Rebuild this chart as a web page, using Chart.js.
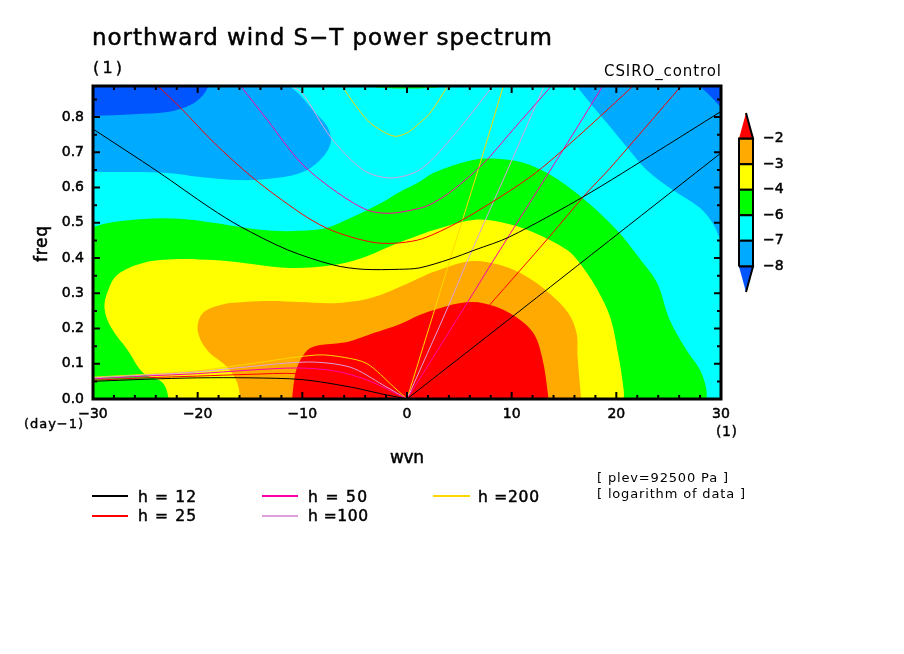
<!DOCTYPE html>
<html>
<head>
<meta charset="utf-8">
<title>northward wind S-T power spectrum</title>
<script src="https://cdn.jsdelivr.net/npm/chart.js@4"></script>
<style>
  body { margin: 0; background: #fff; }
  #plot { position: absolute; left: 0; top: 0; }
  #cbar { position: absolute; left: 730px; top: 103px; }
</style>
</head>
<body>
<canvas id="plot" width="904" height="654"></canvas>
<canvas id="cbar" width="70" height="200"></canvas>
<script>
// axis ticks
const xTicks = [-30, -20, -10, 0, 10, 20, 30];
const xMinor = [-28, -26, -24, -22, -18, -16, -14, -12, -8, -6, -4, -2, 2, 4, 6, 8, 12, 14, 16, 18, 22, 24, 26, 28];
const yTicks = [0, 0.1, 0.2, 0.3, 0.4, 0.5, 0.6, 0.7, 0.8];
const yMinor = [0.05, 0.15, 0.25, 0.35, 0.45, 0.55, 0.65, 0.75, 0.85];
const yTop = 0.888;

// contour regions, [wvn, freq], ends run past the frame and get clipped
const redRegion = [[-11,-.02],[-10.9,.025],[-10.5,.09],[-9.5,.139],[-8.3,.153],[-5.7,.162],[-3.2,.187],[-.7,.212],[1.2,.238],[2.5,.252],[5,.272],[7.3,.272],[9.8,.244],[12,.19],[12.9,.119],[13.5,.006],[13.5,-.02]];
const orangeRegion = [[-15.9,-.02],[-16.2,.045],[-17.2,.091],[-19.1,.139],[-20,.196],[-19.5,.244],[-17.8,.267],[-15.6,.275],[-13,.278],[-10.2,.275],[-7,.272],[-3.8,.284],[-1.3,.31],[1.2,.343],[2.5,.36],[6,.391],[8.9,.38],[11.5,.346],[13.6,.3],[15.4,.244],[16.2,.187],[16.3,.119],[16.7,-.02]];
const yellowRegion = [[-22.6,-.02],[-23.3,.045],[-25.2,.074],[-26.7,.139],[-28.3,.204],[-28.9,.258],[-28.6,.304],[-27.7,.352],[-25.2,.386],[-21.9,.397],[-18.5,.394],[-15.6,.386],[-11.2,.372],[-7,.38],[-4.3,.4],[-1.3,.437],[1.2,.465],[2.5,.479],[6.3,.508],[8.9,.502],[12,.474],[15.3,.423],[16.5,.386],[18.1,.315],[19.4,.233],[20.1,.139],[20.7,.026],[20.7,-.02]];
const greenRegion = [[-31,-.02],[-31,.475],[-30,.488],[-28,.502],[-25.2,.511],[-21.4,.511],[-18.5,.5],[-15.3,.485],[-12.8,.477],[-10.2,.477],[-7.7,.485],[-5.2,.516],[-2.3,.559],[-.7,.587],[1.2,.616],[2.5,.641],[6.3,.678],[8.9,.681],[11.1,.67],[13.4,.641],[15.8,.593],[18.4,.528],[20.3,.471],[21.6,.423],[22.2,.4],[23.9,.329],[25.1,.224],[26.7,.139],[28,.082],[28.6,.026],[28.6,-.02]];
const greenTopRegion = [[-3.2,.9],[-3,.884],[-1,.881],[1,.881],[3,.884],[3.2,.9]];
const skyLeftRegion = [[-31,.644],[-30,.644],[-26.1,.644],[-22.9,.641],[-19.8,.63],[-15.9,.621],[-13.4,.624],[-10.2,.641],[-8.3,.678],[-7.3,.726],[-7.6,.772],[-9,.82],[-10.2,.862],[-11.2,.888],[-12.3,.93],[-31,.93]];
const skyRightRegion = [[15.2,.93],[16.2,.888],[17.5,.84],[19.1,.783],[21,.715],[22.9,.65],[25.4,.593],[28,.542],[29.2,.499],[30,.451],[31,.42],[31,.93]];
const blueLeftRegion = [[-31,.802],[-30,.803],[-26.1,.808],[-22.9,.814],[-20.7,.834],[-19.5,.862],[-19,.888],[-18.8,.93],[-31,.93]];
const blueRightRegion = [[27,.93],[28,.888],[28.9,.862],[30,.828],[31,.8],[31,.93]];
const cyanRegion = [[-30,0],[30,0],[30,.888],[-30,.888]];

// dispersion curves, one low, one eastward and one U-shaped branch per depth
const h12Low = [[-30,.05],[-25,.056],[-20,.06],[-15,.06],[-10,.055],[-5.4,.034],[-2.5,.015],[0,0]];
const h12East = [[0,0],[10,.232],[20,.465],[30,.698]];
const h12Arc = [[-30,.766],[-23.8,.645],[-18.8,.542],[-15.9,.489],[-11.4,.423],[-7,.38],[-4.2,.368],[-.7,.368],[1.2,.372],[4.1,.397],[6.5,.423],[9.8,.46],[16.8,.573],[24.1,.706],[29.9,.814],[30,.816]];
const h25Low = [[-30,.053],[-25,.06],[-20,.065],[-15,.07],[-10.5,.072],[-6,.055],[-3,.03],[0,0]];
const h25East = [[0,0],[7.9,.267],[13.6,.46],[17,.579],[19.4,.655],[26.2,.888]];
const h25Arc = [[-23.8,.888],[-21.6,.825],[-18.5,.729],[-14.7,.627],[-10.2,.528],[-7.7,.485],[-5.4,.46],[-2.9,.443],[-.7,.443],[1.5,.455],[4.8,.5],[8.9,.573],[12.4,.644],[16.8,.757],[21.6,.888]];
const h50Low = [[-30,.057],[-25,.065],[-20,.072],[-15,.082],[-10.5,.088],[-7,.08],[-3.8,.054],[0,0]];
const h50East = [[0,0],[5.8,.275],[8.4,.4],[14.9,.706],[18.7,.888]];
const h50Arc = [[-15.9,.888],[-13.3,.79],[-10.2,.672],[-7,.593],[-3.8,.536],[-1.6,.527],[1.2,.541],[2.5,.556],[4.4,.593],[7.3,.668],[10.1,.763],[13.8,.888]];
const h100Low = [[-30,.06],[-25,.068],[-20,.077],[-15,.092],[-9.4,.105],[-5.4,.09],[-2.3,.04],[0,0]];
const h100East = [[0,0],[3.9,.26],[5.8,.394],[10.1,.683],[13.1,.888]];
const h100Arc = [[-11.1,.888],[-10,.868],[-7.3,.743],[-4.2,.65],[-1.6,.627],[1.2,.65],[4.1,.735],[8.2,.888]];
const h200Low = [[-30,.062],[-25,.07],[-20,.08],[-15,.1],[-8.6,.125],[-6,.118],[-3.8,.1],[-1.3,.035],[0,0]];
const h200East = [[0,0],[2.5,.24],[4.4,.423],[5.3,.508],[7,.67],[9.2,.888]];
const h200Arc = [[-6.2,.888],[-5.1,.84],[-3.5,.783],[-1.3,.746],[0,.755],[1.2,.783],[2.2,.811],[3.9,.888]];

// legend and colour bar
const hLabels = ['h = 12', 'h = 25', 'h = 50', 'h =100', 'h =200'];
const hColors = ['#000000', '#ff0000', '#ff00aa', '#dda0dd', '#ffd700'];
const hCurves = [[h12Low, h12East, h12Arc], [h25Low, h25East, h25Arc], [h50Low, h50East, h50Arc], [h100Low, h100East, h100Arc], [h200Low, h200East, h200Arc]];
const cbarLabels = ['−8', '−7', '−6', '−4', '−3', '−2'];
const cbarColors = ['#00aaff', '#00ffff', '#00ff00', '#ffff00', '#ffaa00'];
const cbarLowTip = [[0,1],[1,1],[.5,0]];
const cbarHighTip = [[0,6],[1,6],[.5,7]];

const FONT = '"DejaVu Sans"';

function points(pairs) {
  return pairs.map((p) => ({x: p[0], y: p[1]}));
}

function region(pairs, color, bend) {
  return {data: points(pairs), showLine: true, fill: 'shape', backgroundColor: color, borderWidth: 0, pointRadius: 0, tension: bend === undefined ? .35 : bend};
}

function curve(pairs, color) {
  return {data: points(pairs), showLine: true, fill: false, borderColor: color, borderWidth: 1, pointRadius: 0, tension: .3};
}

// first dataset ends up on top
const datasets = [];
hCurves.forEach((branches, i) => {
  branches.forEach((b) => datasets.push(curve(b, hColors[i])));
});
datasets.push(
  region(redRegion, '#ff0000'),
  region(orangeRegion, '#ffaa00'),
  region(yellowRegion, '#ffff00'),
  region(greenRegion, '#00ff00'),
  region(greenTopRegion, '#00ff00', 0),
  region(blueLeftRegion, '#0055ff'),
  region(blueRightRegion, '#0055ff'),
  region(skyLeftRegion, '#00aaff'),
  region(skyRightRegion, '#00aaff'),
  region(cyanRegion, '#00ffff', 0)
);

// stretch text to the width it has in the picture
function putText(ctx, t) {
  ctx.save();
  ctx.font = t.size + 'px ' + FONT;
  ctx.fillStyle = '#000';
  ctx.strokeStyle = '#000';
  ctx.lineWidth = t.bold || 0;
  ctx.textBaseline = 'alphabetic';
  ctx.letterSpacing = '0px';
  const gap = (t.w - ctx.measureText(t.text).width) / (t.text.length - 1);
  ctx.letterSpacing = gap + 'px';
  ctx.translate(t.x, t.y);
  if (t.up) ctx.rotate(-Math.PI / 2);
  ctx.fillText(t.text, 0, 0);
  if (t.bold) ctx.strokeText(t.text, 0, 0);
  ctx.restore();
}

const texts = [
  {text: 'northward wind S−T power spectrum', x: 92, y: 45, w: 460, size: 23, bold: .5},
  {text: '(1)', x: 93, y: 73, w: 29, size: 16, bold: .4},
  {text: 'CSIRO_control', x: 604, y: 76, w: 117, size: 15},
  {text: 'freq', x: 47, y: 262, w: 36, size: 17, bold: .5, up: true},
  {text: '(day−1)', x: 24, y: 428, w: 59, size: 13, bold: .4},
  {text: '(1)', x: 716, y: 436, w: 21, size: 14, bold: .4},
  {text: 'wvn', x: 390, y: 463, w: 34, size: 17, bold: .5},
  {text: hLabels[0], x: 138, y: 502, w: 58, size: 15.5, bold: .5},
  {text: hLabels[1], x: 138, y: 521, w: 58, size: 15.5, bold: .5},
  {text: hLabels[2], x: 308, y: 502, w: 59, size: 15.5, bold: .5},
  {text: hLabels[3], x: 308, y: 521, w: 60, size: 15.5, bold: .5},
  {text: hLabels[4], x: 478, y: 502, w: 61, size: 15.5, bold: .5},
  {text: '[ plev=92500 Pa ]', x: 597, y: 482, w: 131, size: 13},
  {text: '[ logarithm of data ]', x: 597, y: 498, w: 148, size: 13}
];
const legendKeys = [[92, 128, 496], [92, 128, 516], [262, 298, 496], [262, 298, 516], [433, 470, 496]];

const framePlugin = {
  id: 'frame',
  afterDraw(chart) {
    const {ctx, chartArea: a, scales} = chart;
    ctx.save();
    ctx.strokeStyle = '#000';
    ctx.lineWidth = 2;
    const xMark = (v, len) => {
      const px = scales.x.getPixelForValue(v);
      ctx.beginPath();
      ctx.moveTo(px, a.bottom); ctx.lineTo(px, a.bottom - len);
      ctx.moveTo(px, a.top); ctx.lineTo(px, a.top + len);
      ctx.stroke();
    };
    const yMark = (v, len) => {
      const py = scales.y.getPixelForValue(v);
      ctx.beginPath();
      ctx.moveTo(a.left, py); ctx.lineTo(a.left + len, py);
      ctx.moveTo(a.right, py); ctx.lineTo(a.right - len, py);
      ctx.stroke();
    };
    xTicks.forEach((v) => xMark(v, 7));
    xMinor.forEach((v) => xMark(v, 4));
    yTicks.forEach((v) => yMark(v, 7));
    yMinor.forEach((v) => yMark(v, 4));
    ctx.lineWidth = 3;
    ctx.strokeRect(a.left, a.top, a.right - a.left, a.bottom - a.top);
    // legend keys
    ctx.lineWidth = 2;
    legendKeys.forEach((k, i) => {
      ctx.strokeStyle = hColors[i];
      ctx.beginPath();
      ctx.moveTo(k[0], k[2]);
      ctx.lineTo(k[1], k[2]);
      ctx.stroke();
    });
    ctx.restore();
    texts.forEach((t) => putText(ctx, t));
  }
};

new Chart(document.getElementById('plot'), {
  type: 'scatter',
  data: {datasets: datasets},
  options: {
    responsive: false,
    animation: false,
    devicePixelRatio: 1,
    events: [],
    layout: {padding: {left: 32, right: 183, top: 86, bottom: 215}},
    plugins: {legend: {display: false}, tooltip: {enabled: false}},
    scales: {
      x: {
        type: 'linear',
        min: -30,
        max: 30,
        afterBuildTicks(s) { s.ticks = xTicks.map((v) => ({value: v})); },
        afterFit(s) { s.height = 40; },
        grid: {display: false, drawTicks: false},
        border: {display: false},
        ticks: {
          autoSkip: false,
          maxRotation: 0,
          padding: 7,
          color: '#000',
          font: {family: 'DejaVu Sans', size: 14},
          textStrokeColor: '#000',
          textStrokeWidth: .5,
          callback: (v) => String(v).replace('-', '−')
        }
      },
      y: {
        type: 'linear',
        min: 0,
        max: yTop,
        afterBuildTicks(s) { s.ticks = yTicks.map((v) => ({value: v})); },
        afterFit(s) { s.width = 61; },
        grid: {display: false, drawTicks: false},
        border: {display: false},
        ticks: {
          autoSkip: false,
          padding: 9,
          color: '#000',
          font: {family: 'DejaVu Sans', size: 14},
          textStrokeColor: '#000',
          textStrokeWidth: .5,
          callback: (v) => v.toFixed(1)
        }
      }
    }
  },
  plugins: [framePlugin]
});

// colour bar, its bands sit on a scale of one unit per level
const cbarSets = [];
function cbarCell(pairs, color) {
  return {data: points(pairs), showLine: true, fill: 'shape', backgroundColor: color, borderColor: '#000', borderWidth: 2, pointRadius: 0, clip: false};
}
cbarSets.push(cbarCell(cbarHighTip, '#ff0000'), cbarCell(cbarLowTip, '#0055ff'));
cbarColors.forEach((c, i) => {
  cbarSets.push(cbarCell([[0, i + 1], [1, i + 1], [1, i + 2], [0, i + 2], [0, i + 1]], c));
});

new Chart(document.getElementById('cbar'), {
  type: 'scatter',
  data: {datasets: cbarSets},
  options: {
    responsive: false,
    animation: false,
    devicePixelRatio: 1,
    events: [],
    layout: {padding: {left: 9, right: 0, top: 10, bottom: 11}},
    plugins: {legend: {display: false}, tooltip: {enabled: false}},
    scales: {
      x: {type: 'linear', min: 0, max: 1, display: false},
      y: {
        type: 'linear',
        position: 'right',
        min: 0,
        max: 7,
        afterBuildTicks(s) { s.ticks = cbarLabels.map((l, i) => ({value: i + 1})); },
        afterFit(s) { s.width = 47; },
        // the tick length only pushes the labels out, tick padding would shrink the bar
        grid: {display: false, tickLength: 10},
        border: {display: false},
        ticks: {
          autoSkip: false,
          padding: 0,
          color: '#000',
          font: {family: 'DejaVu Sans', size: 14},
          textStrokeColor: '#000',
          textStrokeWidth: .5,
          callback: (v) => cbarLabels[v - 1]
        }
      }
    }
  }
});
</script>
</body>
</html>
